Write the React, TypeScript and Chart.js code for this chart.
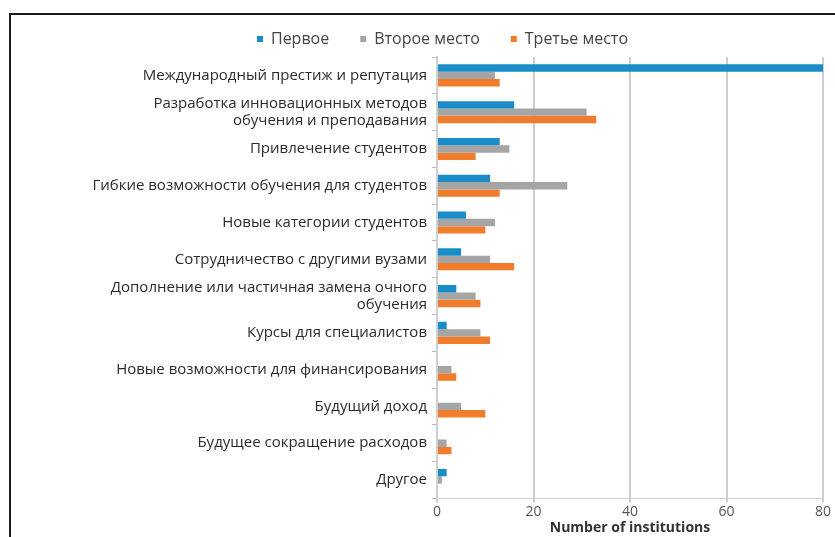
import React, { useEffect, useRef } from "react";
import { Chart, registerables } from "chart.js";

Chart.register(...registerables);

const categories: (string | string[])[] = [
  "Международный престиж и репутация",
  ["Разработка инновационных методов", "обучения и преподавания"],
  "Привлечение студентов",
  "Гибкие возможности обучения для студентов",
  "Новые категории студентов",
  "Сотрудничество с другими вузами",
  ["Дополнение или частичная замена очного", "обучения"],
  "Курсы для специалистов",
  "Новые возможности для финансирования",
  "Будущий доход",
  "Будущее сокращение расходов",
  "Другое",
];

const seriesNames = ["Первое", "Второе место", "Третье место"];
const firstPlace = [80, 16, 13, 11, 6, 5, 4, 2, 0, 0, 0, 2];
const secondPlace = [12, 31, 15, 27, 12, 11, 8, 9, 3, 5, 2, 1];
const thirdPlace = [13, 33, 8, 13, 10, 16, 9, 11, 4, 10, 3, 0];
const xTicks = [0, 20, 40, 60, 80];
const xTitle = "Number of institutions";

const colors = ["#1a8dc8", "#a5a5a5", "#f07c2c"];
const FONT = "'Open Sans', 'DejaVu Sans', sans-serif";
const PAD_LEFT = 62;

export default function App() {
  const ref = useRef<HTMLCanvasElement | null>(null);

  useEffect(() => {
    if (!ref.current) return;
    const chart = new Chart(ref.current, {
      type: "bar",
      data: {
        labels: categories,
        datasets: [firstPlace, secondPlace, thirdPlace].map((d, i) => ({
          label: seriesNames[i],
          data: d,
          backgroundColor: colors[i],
          borderWidth: 0,
          categoryPercentage: 0.6,
          barPercentage: 1.0,
        })),
      },
      options: {
        indexAxis: "y",
        animation: false,
        responsive: false,
        maintainAspectRatio: false,
        layout: { padding: { top: 0, right: 12, bottom: 1, left: PAD_LEFT } },
        plugins: {
          legend: {
            display: true,
            position: "top",
            align: "center",
            labels: {
              boxWidth: 6,
              boxHeight: 6,
              padding: 31,
              color: "#444",
              font: { family: FONT, size: 16 },
            },
          },
          tooltip: { enabled: false },
        },
        scales: {
          x: {
            type: "linear",
            min: 0,
            max: 80,
            afterBuildTicks: (scale: any) => {
              scale.ticks = xTicks.map((v) => ({ value: v }));
            },
            grid: {
              color: "#cfcfcf",
              lineWidth: 2,
              tickLength: 4,
            },
            border: { display: true, color: "#cfcfcf", width: 1 },
            ticks: {
              color: "#555",
              font: { family: FONT, size: 14 },
              padding: 1,
            },
            title: {
              display: true,
              text: xTitle,
              color: "#333",
              font: { family: FONT, size: 14, weight: "bold" },
              padding: { top: -2, bottom: 0 },
            },
          },
          y: {
            afterFit: (scale: any) => {
              scale.width = 437 - PAD_LEFT;
            },
            grid: {
              drawOnChartArea: false,
              color: "#bbb",
              tickLength: 5,
            },
            border: { display: true, color: "#cfcfcf", width: 2 },
            ticks: {
              autoSkip: false,
              color: "#2a2a2a",
              font: { family: FONT, size: 15, lineHeight: 1.13 },
              padding: 5,
            },
          },
        },
      },
    });
    return () => chart.destroy();
  }, []);

  return (
    <div style={{ position: "fixed", left: 0, top: 0, width: 835, height: 537, background: "#fff" }}>
      <canvas ref={ref} width={835} height={537} style={{ position: "absolute", left: 0, top: 0 }} />
      <div
        style={{
          position: "absolute",
          left: 9,
          top: 13,
          width: 840,
          height: 540,
          borderLeft: "2px solid #1a1a1a",
          borderTop: "2px solid #1a1a1a",
          pointerEvents: "none",
        }}
      />
    </div>
  );
}
